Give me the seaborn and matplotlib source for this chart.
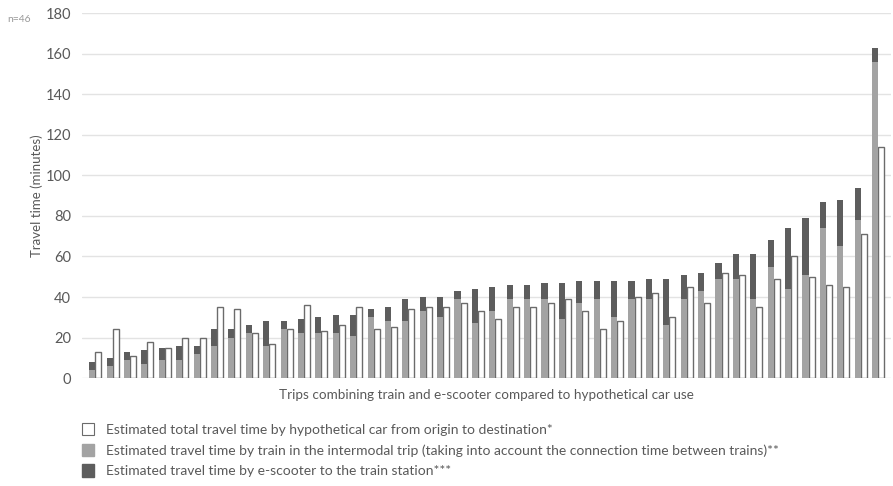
import pandas as pd
import matplotlib.pyplot as plt
import seaborn as sns
from matplotlib.patches import Patch

# travel times (minutes) for each of the 46 trips
train = [4, 6, 9, 7, 9, 9, 12, 16, 20, 22,
         16, 24, 22, 22, 22, 21, 30, 28, 28, 33,
         30, 39, 27, 33, 39, 39, 39, 29, 37, 39,
         30, 39, 39, 26, 39, 43, 49, 49, 39, 55,
         44, 51, 74, 65, 78, 156]
total = [8, 10, 13, 14, 15, 16, 16, 24, 24, 26,
         28, 28, 29, 30, 31, 31, 34, 35, 39, 40,
         40, 43, 44, 45, 46, 46, 47, 47, 48, 48,
         48, 48, 49, 49, 51, 52, 57, 61, 61, 68,
         74, 79, 87, 88, 94, 163]
car = [13, 24, 11, 18, 15, 20, 20, 35, 34, 22,
       17, 24, 36, 23, 26, 35, 24, 25, 34, 35,
       35, 37, 33, 29, 35, 35, 37, 39, 33, 24,
       28, 40, 42, 30, 45, 37, 52, 51, 35, 49,
       60, 50, 46, 45, 71, 114]
trips = list(range(1, len(train) + 1))

lbl_car = "Estimated total travel time by hypothetical car from origin to destination*"
lbl_train = "Estimated travel time by train in the intermodal trip (taking into account the connection time between trains)**"
lbl_scooter = "Estimated travel time by e-scooter to the train station***"

sns.set_style("white")
plt.rcParams['font.family'] = ['Lato', 'DejaVu Sans']

c_train = "#a3a3a3"
c_scooter = "#5d5d5d"
c_edge = "#6b6b6b"
c_text = "#595959"

totals = pd.DataFrame({
    "trip": trips * 2,
    "mode": ["intermodal"] * len(trips) + ["car"] * len(trips),
    "minutes": total + car,
})
trains = pd.DataFrame({"trip": trips, "mode": "intermodal", "minutes": train})

fig = plt.figure(figsize=(8.93, 4.86), dpi=100)
ax = fig.add_axes([0.092, 0.222, 0.906, 0.751])

# full intermodal bar (scooter colour) + car bar
sns.barplot(data=totals, x="trip", y="minutes", hue="mode",
            hue_order=["intermodal", "car"],
            palette={"intermodal": c_scooter, "car": "white"},
            width=0.7, dodge=True, errorbar=None, legend=False,
            linewidth=0, ax=ax)
for p in ax.patches[len(trips):]:
    p.set_edgecolor(c_edge)
    p.set_linewidth(1.0)

# train part overlaid on the bottom of the intermodal bar
sns.barplot(data=trains, x="trip", y="minutes", hue="mode",
            hue_order=["intermodal", "car"],
            palette={"intermodal": c_train, "car": "white"},
            width=0.7, dodge=True, errorbar=None, legend=False,
            linewidth=0, ax=ax)

ax.set_ylim(0, 180)
ax.set_xlim(-0.75, 45.75)
ax.set_yticks(range(0, 181, 20))
ax.set_xticks([])
ax.grid(axis="y", color="#e3e3e3", linewidth=1)
ax.set_axisbelow(True)
sns.despine(ax=ax, left=True, bottom=True)
ax.tick_params(axis="y", length=0, pad=8, labelsize=10.5, labelcolor=c_text)
ax.set_ylabel("Travel time (minutes)", fontsize=9.5, color=c_text, labelpad=2)
ax.set_xlabel("Trips combining train and e-scooter compared to hypothetical car use",
              fontsize=9.7, color=c_text, labelpad=8)

fig.text(0.008, 0.955, "n=46", fontsize=7.5, color="#999999")

handles = [
    Patch(facecolor="white", edgecolor=c_edge, linewidth=0.8, label=lbl_car),
    Patch(facecolor=c_train, edgecolor=c_train, label=lbl_train),
    Patch(facecolor=c_scooter, edgecolor=c_scooter, label=lbl_scooter),
]
leg = fig.legend(handles=handles, loc="upper left",
                 frameon=False, fontsize=10, handlelength=0.85, handleheight=1.0,
                 handletextpad=0.85, labelspacing=0.55, borderaxespad=0,
                 bbox_to_anchor=(0.086, 0.141), bbox_transform=fig.transFigure)
for t in leg.get_texts():
    t.set_color(c_text)

fig.savefig("out.png", dpi=100)
plt.close(fig)
